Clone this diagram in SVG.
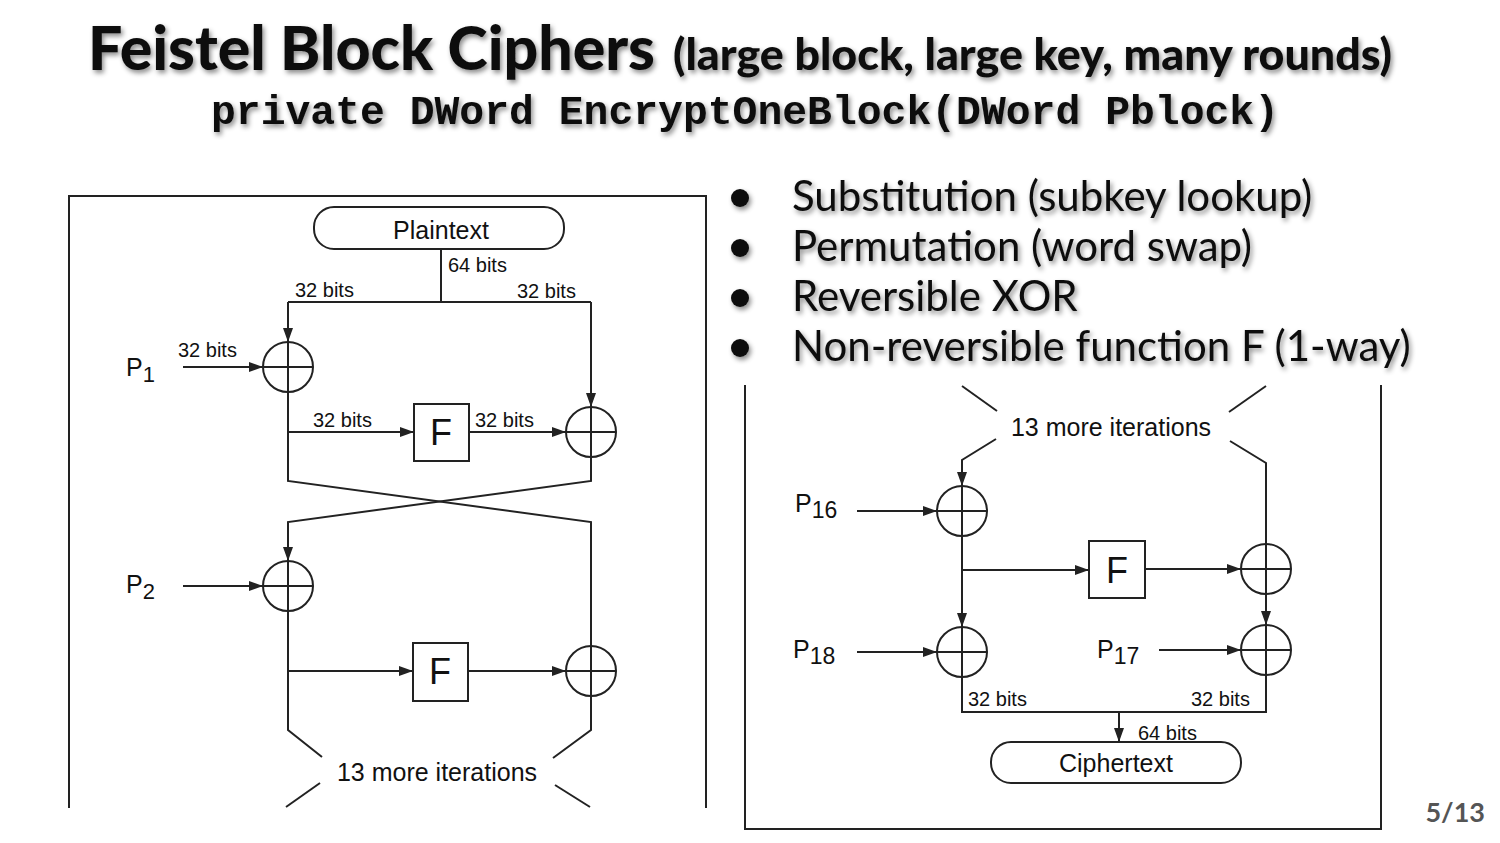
<svg xmlns="http://www.w3.org/2000/svg" width="1500" height="843" viewBox="0 0 1500 843">
  <defs>
    <filter id="shadow" x="-5%" y="-30%" width="110%" height="160%">
      <feDropShadow dx="2" dy="3" stdDeviation="2.5" flood-color="#000" flood-opacity="0.45"/>
    </filter>
    <marker id="arrow" markerWidth="14" markerHeight="10" refX="14" refY="5" orient="auto" markerUnits="userSpaceOnUse">
      <path d="M0,0 L14,5 L0,10 z" fill="#222"/>
    </marker>
    <g id="xor">
      <circle cx="0" cy="0" r="25" fill="none" stroke="#222" stroke-width="2"/>
      <path d="M-25,0 H25 M0,-25 V25" stroke="#222" stroke-width="2"/>
    </g>
  </defs>
  <style>
    .line { fill: none; stroke: #222; stroke-width: 2; }
    .arr { marker-end: url(#arrow); }
    .box { fill: #fff; stroke: #222; stroke-width: 2; }
    .lbl { font-family: "Liberation Sans", Arial, sans-serif; font-size: 20px; fill: #111; }
    .big { font-family: "Liberation Sans", Arial, sans-serif; font-size: 25px; fill: #111; }
    .f { font-family: "Liberation Sans", Arial, sans-serif; font-size: 36px; fill: #111; text-anchor: middle; }
    .title { font-family: Lato, "Open Sans", sans-serif; font-weight: 900; fill: #111; filter: url(#shadow); }
    .code { font-family: "Liberation Mono", "Courier New", monospace; font-weight: bold; font-size: 41px; fill: #111; filter: url(#shadow); }
    .bullet { font-family: Lato, "Open Sans", sans-serif; font-size: 42px; fill: #111; }
  </style>
  <rect width="1500" height="843" fill="#fff"/>

  <g id="title">
    <text class="title" x="88" y="70" font-size="61" textLength="567" lengthAdjust="spacingAndGlyphs">Feistel Block Ciphers</text>
    <text class="title" x="673" y="70" font-size="44" textLength="719" lengthAdjust="spacingAndGlyphs">(large block, large key, many rounds)</text>
    <text class="code" x="211" y="124" textLength="1068" lengthAdjust="spacingAndGlyphs">private DWord EncryptOneBlock(DWord Pblock)</text>
  </g>

  <g id="bullets" filter="url(#shadow)">
    <circle cx="740" cy="198" r="9" fill="#111"/>
    <circle cx="740" cy="248" r="9" fill="#111"/>
    <circle cx="740" cy="298" r="9" fill="#111"/>
    <circle cx="740" cy="348" r="9" fill="#111"/>
    <text class="bullet" x="792" y="211">Substitution (subkey lookup)</text>
    <text class="bullet" x="792" y="261">Permutation (word swap)</text>
    <text class="bullet" x="792" y="311">Reversible XOR</text>
    <text class="bullet" x="792" y="361">Non-reversible function F (1-way)</text>
  </g>

  <g id="page-number">
    <text x="1485" y="822" text-anchor="end" font-family="Lato, 'Open Sans', sans-serif" font-weight="bold" font-size="27" fill="#555">5/13</text>
  </g>

  <!-- frames -->
  <g id="frames">
    <path class="line" d="M69,808 V196 H706 V808"/>
    <path class="line" d="M745,385 V829 H1381 V385"/>
  </g>

  <!-- connectors -->
  <g id="connectors">
    <!-- left diagram -->
    <path class="line" d="M441,249 V302"/>
    <path class="line" d="M288,302 H591"/>
    <path class="line arr" d="M288,302 V342"/>
    <path class="line arr" d="M591,302 V407"/>
    <path class="line arr" d="M183,367 H263"/>
    <path class="line" d="M288,392 V481 L591,522 V730 L553,758"/>
    <path class="line arr" d="M288,432 H414"/>
    <path class="line arr" d="M469,432 H566"/>
    <path class="line arr" d="M591,457 V481 L288,522 V561"/>
    <path class="line arr" d="M183,586 H263"/>
    <path class="line" d="M288,611 V730 L322,757"/>
    <path class="line arr" d="M288,671 H413"/>
    <path class="line arr" d="M468,671 H566"/>
    <path class="line" d="M320,783 L286,807"/>
    <path class="line" d="M555,785 L590,807"/>
    <!-- right diagram -->
    <path class="line" d="M962,386 L997,411"/>
    <path class="line" d="M1266,386 L1229,412"/>
    <path class="line arr" d="M996,439 L962,460 V486"/>
    <path class="line" d="M1230,441 L1266,463 V544"/>
    <path class="line arr" d="M857,511 H937"/>
    <path class="line arr" d="M962,536 V627"/>
    <path class="line arr" d="M962,570 H1089"/>
    <path class="line arr" d="M1145,569 H1241"/>
    <path class="line arr" d="M1266,594 V625"/>
    <path class="line arr" d="M1159,650 H1241"/>
    <path class="line arr" d="M857,652 H937"/>
    <path class="line" d="M962,677 V712 H1266 V675"/>
    <path class="line arr" d="M1119,712 V742"/>
  </g>

  <!-- left diagram nodes -->
  <g id="plaintext">
    <rect class="box" x="314" y="207" width="250" height="42" rx="20"/>
    <text class="big" x="441" y="239" text-anchor="middle">Plaintext</text>
  </g>
  <g id="labels-left">
    <text class="lbl" x="448" y="272">64 bits</text>
    <text class="lbl" x="295" y="297">32 bits</text>
    <text class="lbl" x="517" y="298">32 bits</text>
    <text class="lbl" x="178" y="357">32 bits</text>
    <text class="lbl" x="313" y="427">32 bits</text>
    <text class="lbl" x="475" y="427">32 bits</text>
  </g>
  <g id="p1">
    <text class="big" x="126" y="376">P<tspan font-size="22" dy="6">1</tspan></text>
  </g>
  <g id="xor1"><use href="#xor" x="288" y="367"/></g>
  <g id="f1">
    <rect class="box" x="414" y="404" width="55" height="57"/>
    <text class="f" x="441" y="445">F</text>
  </g>
  <g id="xor1r"><use href="#xor" x="591" y="432"/></g>
  <g id="p2">
    <text class="big" x="126" y="593">P<tspan font-size="22" dy="6">2</tspan></text>
  </g>
  <g id="xor2"><use href="#xor" x="288" y="586"/></g>
  <g id="f2">
    <rect class="box" x="413" y="643" width="55" height="58"/>
    <text class="f" x="440" y="684">F</text>
  </g>
  <g id="xor2r"><use href="#xor" x="591" y="671"/></g>
  <g id="iter-left">
    <text class="big" x="437" y="781" text-anchor="middle">13 more iterations</text>
  </g>

  <!-- right diagram nodes -->
  <g id="iter-right">
    <text class="big" x="1111" y="436" text-anchor="middle">13 more iterations</text>
  </g>
  <g id="p16">
    <text class="big" x="795" y="512">P<tspan font-size="23" dy="6">16</tspan></text>
  </g>
  <g id="xor16"><use href="#xor" x="962" y="511"/></g>
  <g id="f3">
    <rect class="box" x="1089" y="541" width="56" height="57"/>
    <text class="f" x="1117" y="583">F</text>
  </g>
  <g id="xor16r"><use href="#xor" x="1266" y="569"/></g>
  <g id="p18">
    <text class="big" x="793" y="658">P<tspan font-size="23" dy="6">18</tspan></text>
  </g>
  <g id="xor18"><use href="#xor" x="962" y="652"/></g>
  <g id="p17">
    <text class="big" x="1097" y="658">P<tspan font-size="23" dy="6">17</tspan></text>
  </g>
  <g id="xor17"><use href="#xor" x="1266" y="650"/></g>
  <g id="labels-right">
    <text class="lbl" x="968" y="706">32 bits</text>
    <text class="lbl" x="1191" y="706">32 bits</text>
    <text class="lbl" x="1138" y="740">64 bits</text>
  </g>
  <g id="ciphertext">
    <rect class="box" x="991" y="742" width="250" height="41" rx="20"/>
    <text class="big" x="1116" y="772" text-anchor="middle">Ciphertext</text>
  </g>
</svg>
